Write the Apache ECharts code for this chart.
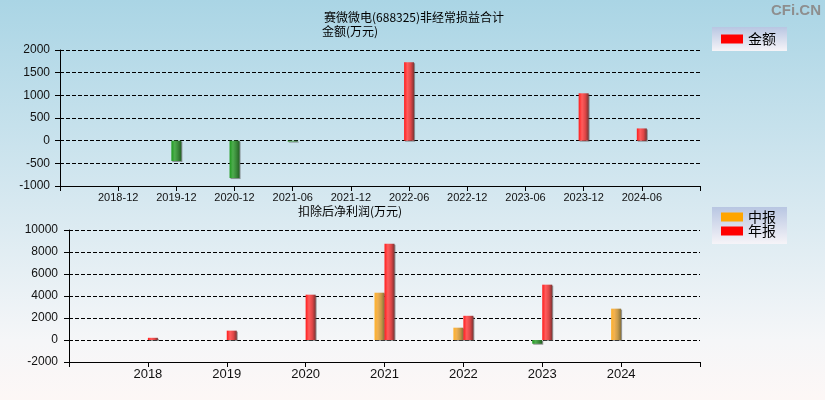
<!DOCTYPE html>
<html>
<head>
<meta charset="utf-8">
<script src="https://cdn.jsdelivr.net/npm/echarts@6/dist/echarts.min.js"></script>
<style>
  html, body { margin: 0; padding: 0; }
  #main { width: 825px; height: 400px; }
</style>
</head>
<body>
<div id="main"></div>
<script>
// 上图：非经常损益合计
const topCats = ['', '2018-12', '2019-12', '2020-12', '2021-06', '2021-12', '2022-06', '2022-12', '2023-06', '2023-12', '2024-06', ''];
const topValues = [null, null, -448, -825, -20, null, 1730, null, null, 1045, 270, null];

// 下图：扣除后净利润
const bottomCats = ['', '2018', '2019', '2020', '2021', '2022', '2023', '2024', ''];
const midValues = [null, null, null, null, 4300, 1120, -340, 2850, null];
const annualValues = [null, 200, 850, 4120, 8750, 2200, 5030, null, null];

const font = '"Liberation Sans", Arial, sans-serif';
const cjk = '"Noto Sans CJK SC", sans-serif';

function grad(stops) {
  return new echarts.graphic.LinearGradient(0, 0, 1, 0,
    stops.map((c, i) => ({ offset: i / (stops.length - 1), color: c })));
}
const redFill = grad(['#ff1c1c', '#ff5c5c', '#e04646', '#7c3434']);
const orangeFill = grad(['#ffb22c', '#f0b050', '#c89a48', '#85703c']);
const greenFill = grad(['#1f9a1f', '#4eac4e', '#3a8a3a', '#246024']);

function colorBy(pos) {
  return p => (p.value < 0 ? greenFill : pos);
}

const barStyle = fill => ({
  color: colorBy(fill),
  shadowColor: 'rgba(90,90,90,0.6)',
  shadowOffsetX: 1,
  shadowOffsetY: 1,
  shadowBlur: 0
});

const xAxisCommon = {
  type: 'category',
  boundaryGap: false,
  axisLine: { onZero: false, lineStyle: { color: '#000', width: 1 } },
  axisTick: { show: true, length: 5, interval: 0, lineStyle: { color: '#000' } },
  splitLine: { show: false }
};

const yAxisCommon = {
  type: 'value',
  axisLine: { show: true, lineStyle: { color: '#000' } },
  axisTick: { show: true, length: 5, lineStyle: { color: '#000' } },
  splitLine: { show: true, lineStyle: { color: '#000', type: [4, 2], width: 1 } }
};

const titleStyle = { fontFamily: cjk, fontSize: 12, fontWeight: 'normal', color: '#000' };

const option = {
  animation: false,
  backgroundColor: new echarts.graphic.LinearGradient(0, 0, 0, 1, [
    { offset: 0, color: '#aad5e5' },
    { offset: 0.5, color: '#d6e8f0' },
    { offset: 0.85, color: '#f5f6f8' },
    { offset: 1, color: '#fdf7f6' }
  ]),
  title: [
    { text: '赛微微电(688325)非经常损益合计', left: 324, top: 11, padding: 0, textStyle: titleStyle },
    { text: '金额(万元)', left: 322, top: 25, padding: 0, textStyle: titleStyle },
    { text: '扣除后净利润(万元)', left: 298, top: 205, padding: 0, textStyle: titleStyle }
  ],
  graphic: [
    { type: 'text', right: 4, top: 3,
      style: { text: 'CFi.CN', fill: '#8e8e8e', font: 'bold 15px ' + font } }
  ],
  legend: [
    {
      left: 712, top: 27, orient: 'vertical',
      padding: [5, 11, 5, 9],
      itemWidth: 22, itemHeight: 9, itemGap: 0,
      icon: 'rect',
      backgroundColor: new echarts.graphic.LinearGradient(0, 0, 0, 1, [
        { offset: 0, color: '#b8c6e2' }, { offset: 1, color: '#f6f4f8' }
      ]),
      textStyle: { fontFamily: cjk, fontSize: 14, color: '#000', lineHeight: 14 },
      data: [{ name: '金额', itemStyle: { color: '#ff0000' } }]
    },
    {
      left: 712, top: 207, orient: 'vertical',
      padding: [3, 11, 6, 9],
      itemWidth: 22, itemHeight: 9, itemGap: 0,
      icon: 'rect',
      backgroundColor: new echarts.graphic.LinearGradient(0, 0, 0, 1, [
        { offset: 0, color: '#b8c6e2' }, { offset: 1, color: '#f6f4f8' }
      ]),
      textStyle: { fontFamily: cjk, fontSize: 14, color: '#000', lineHeight: 14 },
      data: [
        { name: '中报', itemStyle: { color: '#ffa500' } },
        { name: '年报', itemStyle: { color: '#ff0000' } }
      ]
    }
  ],
  grid: [
    { left: 60, right: 125, top: 50, bottom: 214 },
    { left: 69, right: 125, top: 230, bottom: 38 }
  ],
  xAxis: [
    Object.assign({}, xAxisCommon, {
      gridIndex: 0, data: topCats,
      axisLabel: { interval: 0, color: '#111', fontFamily: font, fontSize: 11, margin: 6 }
    }),
    Object.assign({}, xAxisCommon, {
      gridIndex: 1, data: bottomCats,
      axisLabel: { interval: 0, color: '#111', fontFamily: font, fontSize: 13, margin: 6 }
    })
  ],
  yAxis: [
    Object.assign({}, yAxisCommon, { gridIndex: 0, min: -1000, max: 2000, interval: 500,
      axisLabel: { color: '#111', fontFamily: font, fontSize: 12, margin: 10, formatter: v => String(v) } }),
    Object.assign({}, yAxisCommon, { gridIndex: 1, min: -2000, max: 10000, interval: 2000,
      axisLabel: { color: '#111', fontFamily: font, fontSize: 12, margin: 11, formatter: v => String(v) } })
  ],
  series: [
    {
      name: '金额', type: 'bar', xAxisIndex: 0, yAxisIndex: 0,
      barWidth: 10, data: topValues, itemStyle: barStyle(redFill)
    },
    {
      name: '中报', type: 'bar', xAxisIndex: 1, yAxisIndex: 1,
      barWidth: 10, barGap: '0%', data: midValues, itemStyle: barStyle(orangeFill)
    },
    {
      name: '年报', type: 'bar', xAxisIndex: 1, yAxisIndex: 1,
      barWidth: 10, barGap: '0%', data: annualValues, itemStyle: barStyle(redFill)
    }
  ]
};

const myChart = echarts.init(document.getElementById('main'));
myChart.setOption(option);
</script>
</body>
</html>
